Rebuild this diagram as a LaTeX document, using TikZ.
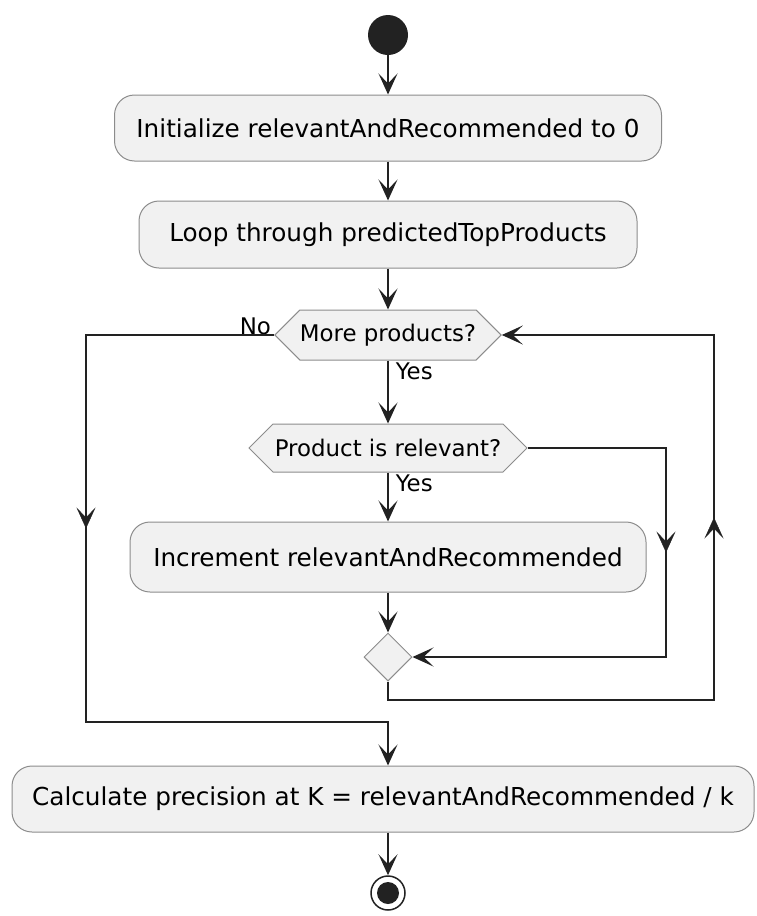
\documentclass[tikz,border=0pt]{standalone}
\usepackage{fontspec}
\setmainfont{DejaVu Sans}
\usetikzlibrary{arrows.meta,shapes.geometric,shapes.symbols,decorations.markings}
\definecolor{boxfill}{HTML}{F1F1F1}
\definecolor{boxline}{HTML}{8C8C8C}
\definecolor{ink}{HTML}{222222}
\tikzset{
  tip/.tip={Stealth[length=21pt,width=19pt,inset=10pt]},
  flow/.style={draw=ink, line width=1.5pt, line join=miter, -tip},
  wire/.style={draw=ink, line width=1.5pt, line join=miter},
  midarrow/.style={postaction={decorate},
    decoration={markings, mark=at position 0.5 with {\arrow[ink]{tip}}}},
  act/.style={draw=boxline, fill=boxfill, line width=1pt, rounded corners=20pt,
    inner sep=0pt, font=\fontsize{24.7}{30}\selectfont},
  cond/.style={shape=signal, signal to=west and east, signal pointer angle=90,
    draw=boxline, fill=boxfill, line width=1pt, inner sep=0pt,
    font=\fontsize{22.9}{27}\selectfont},
  lbl/.style={font=\fontsize{22.9}{27}\selectfont, inner sep=1pt},
}
\begin{document}
\begin{tikzpicture}[x=1pt,y=-1pt]
\useasboundingbox (0,0) rectangle (756,916);

% activity nodes
\node (start) [circle, fill=ink, minimum size=40pt, inner sep=0pt] at (388,35) {};
\node (init) [act, minimum width=547pt, minimum height=66pt] at (388,128) {Initialize relevantAndRecommended to 0};
\node (loop) [act, minimum width=498pt, minimum height=67pt] at (388,234.5) {Loop through predictedTopProducts};
\node (more) [cond, minimum width=224pt, minimum height=50pt] at (388,335) {More products?};
\node (prod) [cond, minimum width=278pt, minimum height=48pt] at (388,448) {Product is relevant?};
\node (incr) [act, minimum width=516pt, minimum height=70pt] at (388,557) {Increment relevantAndRecommended};
\node (merge) [diamond, draw=boxline, fill=boxfill, line width=1pt, minimum width=48pt, minimum height=48pt, inner sep=0pt] at (388,657) {};
\node (calc) [act, minimum width=742pt, minimum height=66pt] at (383,799) {Calculate precision at K = relevantAndRecommended / k};
\node (end) [circle, draw=ink, fill=white, line width=1.5pt, minimum size=34pt, inner sep=0pt] at (388,893) {};
\fill[ink] (end.center) circle (11pt);

% routing points
\coordinate (skipT) at (666,448);
\coordinate (skipB) at (666,657);
\coordinate (backB) at (388,700);
\coordinate (backR) at (714,700);
\coordinate (backT) at (714,335);
\coordinate (noT) at (86,335);
\coordinate (noB) at (86,722);
\coordinate (noR) at (388,722);

% main flow
\draw[flow] (start) -- (init);
\draw[flow] (init) -- (loop);
\draw[flow] (loop) -- (more.north);
\draw[flow] (more.south) -- node[lbl, pos=0, anchor=north west, xshift=6pt, yshift=-1pt] (yes1) {Yes} (prod.north);
\draw[flow] (prod.south) -- node[lbl, pos=0, anchor=north west, xshift=6pt, yshift=-1pt] (yes2) {Yes} (incr.north);
\draw[flow] (incr.south) -- (merge.north);

% branch skipping the increment
\draw[flow] (prod.east) -- (skipT) -- (skipB) -- (merge.east);
\path[midarrow] (skipT) -- (skipB);

% loop back to the condition
\draw[flow] (merge.south) -- (backB) -- (backR) -- (backT) -- (more.east);
\path[midarrow] (backR) -- (backT);

% exit when no products remain
\node (no) [lbl, anchor=south east] at ([xshift=-2pt,yshift=-1pt]more.west) {No};
\draw[flow] (more.west) -- (noT) -- (noB) -- (noR) -- (noR |- calc.north);
\path[midarrow] (noT) -- (noB);
\draw[flow] (end |- calc.south) -- (end);
\end{tikzpicture}
\end{document}
